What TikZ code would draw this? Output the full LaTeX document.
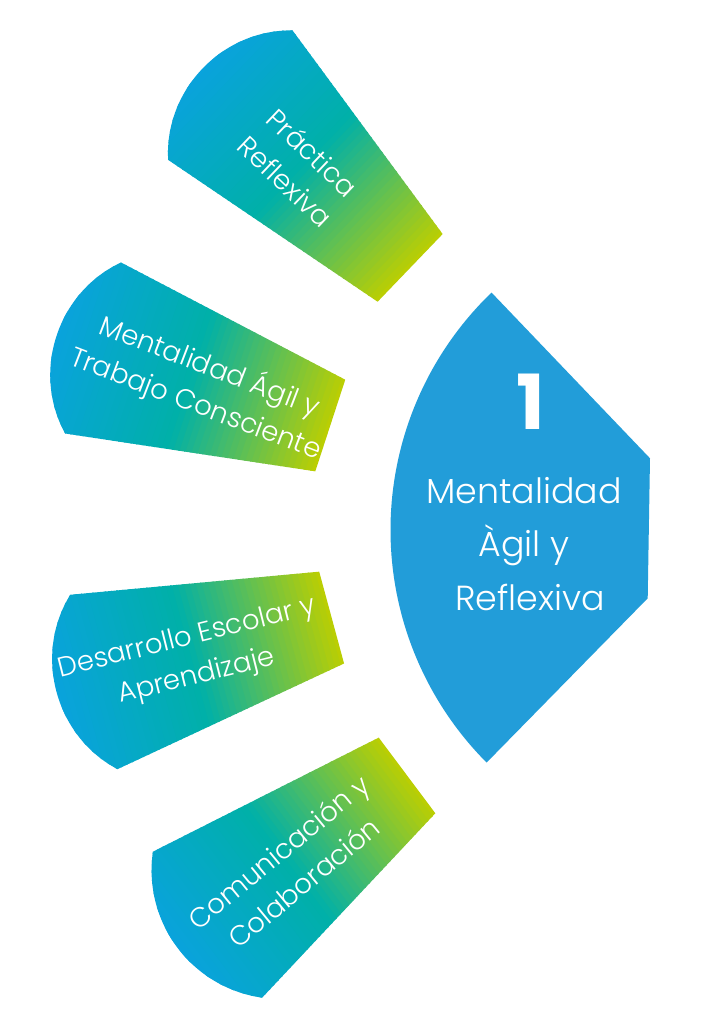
\documentclass[tikz,border=0pt]{standalone}
\usepackage{fontspec}
\setmainfont{Poppins}
\newfontfamily\poplight{Poppins Light}
\usetikzlibrary{calc}
\definecolor{gpblue}{RGB}{10,162,224}
\definecolor{gpteal}{RGB}{0,176,168}
\definecolor{gpgreen}{RGB}{190,207,0}
\definecolor{bigblue}{RGB}{34,157,217}
\newcommand{\gradpiece}[8]{% #1 name, #2 cx, #3 cy, #4 a1, #5 a2, #6 r, #7 R, #8 bend
  \coordinate (#1c) at (#2,#3);
  \coordinate (#1i1) at ($(#1c)+(#4:#6)$);
  \coordinate (#1o1) at ($(#1c)+(#4:#7)$);
  \coordinate (#1o2) at ($(#1c)+(#5:#7)$);
  \coordinate (#1i2) at ($(#1c)+(#5:#6)$);
  \begin{scope}
    \clip (#1i1) -- (#1o1) to[bend right=#8] (#1o2) -- (#1i2) -- cycle;
    \pgfmathsetmacro{\gpm}{(#4+#5)/2}
    \pgfmathsetmacro{\gpxs}{#6*cos((#5-#4)/2)-2}
    \pgfmathsetmacro{\gpxe}{#7+40}
    \begin{scope}[shift={(#2,#3)}, rotate=\gpm]
      \foreach \i in {0,...,49}{
        \pgfmathsetmacro{\gpxa}{\gpxs+\i*(\gpxe-\gpxs)/50}
        \pgfmathsetmacro{\gpxb}{\gpxa+(\gpxe-\gpxs)/50+1.5}
        \pgfmathtruncatemacro{\gpk}{4*\i+2}
        \ifnum\gpk<100\relax
          \colorlet{gpc}{gpteal!\gpk!gpgreen}%
        \else
          \pgfmathtruncatemacro{\gpq}{\gpk-100}%
          \colorlet{gpc}{gpblue!\gpq!gpteal}%
        \fi
        \fill[gpc] (\gpxa,-200) rectangle (\gpxb,200);
      }
    \end{scope}
  \end{scope}}
\tikzset{
  ptext/.style={text=white, align=center, inner sep=0pt, font=\poplight\fontsize{13.75}{19.75}\selectfont},
  bigtext/.style={text=white, align=center, inner sep=0pt, font=\poplight\fontsize{17.4}{26.75}\selectfont},
  numtext/.style={text=white, inner sep=0pt, font=\fontsize{38}{40}\selectfont\bfseries}
}
\begin{document}
\begin{tikzpicture}[x=0.5pt, y=0.5pt]
  \fill[white] (0,0) rectangle (719,1024);
  \useasboundingbox (0,0) rectangle (719,1024);
  % gradient pieces
  \gradpiece{pa}{607}{567}{126.4}{145.9}{277}{530}{47}
  \gradpiece{pb}{604}{509}{152.4}{171.4}{292}{545}{47}
  \gradpiece{pc}{596}{478}{185.3}{205}{278}{528}{47}
  \gradpiece{pd}{621.5}{409}{206.8}{226.8}{272}{525}{45}
  % big blue piece
  \coordinate (bc) at (720,494);
  \fill[bigblue] ($(bc)+(133.9:329.5)$) arc[start angle=133.9, end angle=224.9, radius=329.5]
     -- (647.7,425.7) -- (650,565.7) -- cycle;
  % texts
  \node[ptext, rotate=-43.5] (t1) at (299,857) {Práctica\\Reflexiva};
  \node[ptext, rotate=-21] (t2) at (203,639) {Mentalidad Ágil y\\Trabajo Consciente};
  \node[ptext, rotate=14] (t3) at (192,366) {Desarrollo Escolar y\\Aprendizaje};
  \node[ptext, rotate=39.5] (t4) at (291,157) {Comunicación y\\Colaboración};
  \node[numtext] (num) at (531,622) {1};
  \node[bigtext] (title) at (524,480) {Mentalidad\\Àgil y\\\hspace*{0.35em}Reflexiva};
\end{tikzpicture}
\end{document}
